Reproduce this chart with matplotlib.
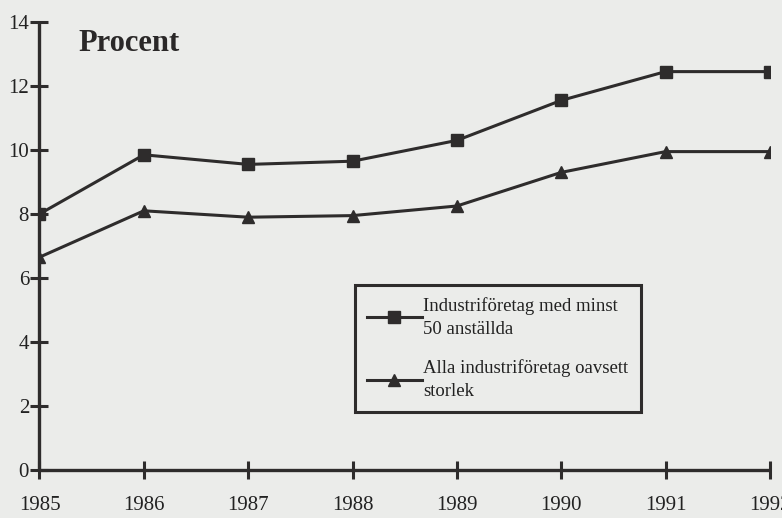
import numpy as np
import matplotlib.pyplot as plt

years = [1985, 1986, 1987, 1988, 1989, 1990, 1991, 1992]
minst50 = [8.0, 9.85, 9.55, 9.65, 10.3, 11.55, 12.45, 12.45]
alla = [6.65, 8.1, 7.9, 7.95, 8.25, 9.3, 9.95, 9.95]
yticks = [0, 2, 4, 6, 8, 10, 12, 14]

bg = '#ebecea'
ink = '#2e2c2c'
plt.rcParams['font.family'] = ['Liberation Serif', 'DejaVu Serif']

fig = plt.figure(figsize=(7.82, 5.18), dpi=100, facecolor=bg)
ax = fig.add_axes([0.0505, 0.0927, 0.9340, 0.8648], facecolor=bg)

ax.plot(years, minst50, color=ink, lw=2.2, marker='s', ms=8.5,
        label='Industriföretag med minst\n50 anställda')
ax.plot(years, alla, color=ink, lw=2.2, marker='^', ms=8,
        label='Alla industriföretag oavsett\nstorlek')

ax.set_xlim(1985, 1992)
ax.set_ylim(0, 14)
ax.set_xticks(years)
ax.set_yticks(yticks)
for s in ['top', 'right']:
    ax.spines[s].set_visible(False)
for s in ['left', 'bottom']:
    ax.spines[s].set_color(ink)
    ax.spines[s].set_linewidth(2.4)
    ax.spines[s].set_capstyle('butt')
ax.tick_params(direction='inout', length=13, width=2.2, color=ink,
               labelsize=15, labelcolor='#222')
ax.tick_params(axis='y', pad=1)
ax.tick_params(axis='x', pad=12)

ax.text(0.053, 0.985, 'Procent', transform=ax.transAxes, fontsize=22,
        fontweight='bold', color='#2a2828', va='top', ha='left')

leg = ax.legend(loc='upper left', bbox_to_anchor=(0.432, 0.413), fontsize=13.5,
                frameon=True, fancybox=False, handlelength=2.9,
                handletextpad=0.1, labelspacing=1.15, borderpad=0.65,
                borderaxespad=0, labelcolor='#222')
for t in leg.get_texts():
    t.set_linespacing(1.45)
leg.get_frame().set_edgecolor(ink)
leg.get_frame().set_linewidth(2.2)
leg.get_frame().set_facecolor(bg)
leg.get_frame().set_alpha(1)

fig.savefig('out.png', dpi=100, facecolor=bg)
